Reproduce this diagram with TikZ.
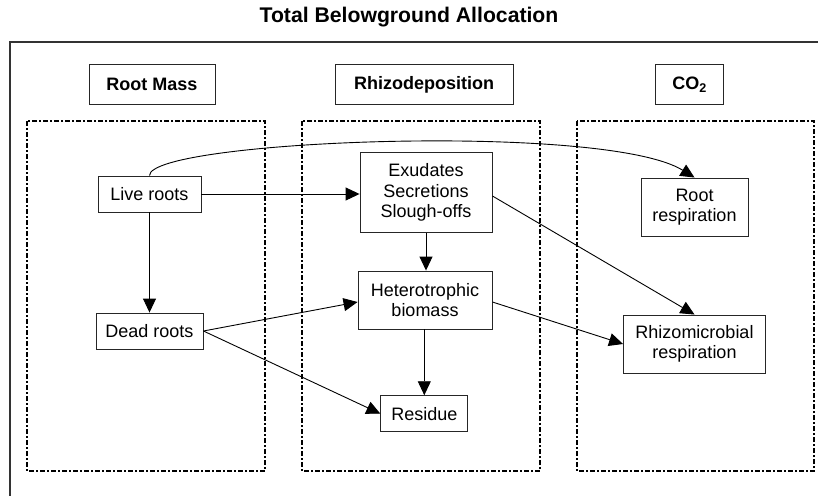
\documentclass[tikz,border=0pt]{standalone}
\usepackage{fontspec}
\setmainfont{Liberation Sans}
\usetikzlibrary{arrows.meta}
\begin{document}
\begin{tikzpicture}[x=1pt,y=-1pt,
  every node/.style={font=\fontsize{18}{20.5}\selectfont},
  box/.style={draw=black!85, line width=0.9pt, fill=white, inner sep=0pt, align=center},
  hdr/.style={box, font=\fontsize{18}{20.5}\selectfont\bfseries},
  group/.style={draw=black, line width=1.6pt, dash pattern=on 5pt off 2pt on 2pt off 2pt},
  arr/.style={line width=0.9pt, -{Triangle[length=14pt,width=13pt]}}]
\useasboundingbox (0,0) rectangle (818,495);
\clip (0,0) rectangle (818,495);
% outer frame
\draw[line width=1.3pt, draw=black!80] (10,590) -- (10,42) -- (900,42);
\node[font=\fontsize{21.2}{24}\selectfont\bfseries] (title) at (409,17) {Total Belowground Allocation};
% group frames
\draw[group] (27,121) rectangle (265,471);
\draw[group] (302,121) rectangle (540,471);
\draw[group] (577,121) rectangle (814,471);
% headers
\node[hdr, minimum width=126pt, minimum height=40pt] (rm) at (152,84.5) {Root Mass};
\node[hdr, minimum width=178pt, minimum height=40pt] (rd) at (424,84.5) {Rhizodeposition};
\node[hdr, minimum width=68pt, minimum height=40pt] (co) at (689.5,84.5) {CO\textsubscript{2}};
% nodes
\node[box, minimum width=103pt, minimum height=36pt] (live) at (149.5,194) {Live roots};
\node[box, minimum width=107pt, minimum height=36pt] (dead) at (149.5,331) {Dead roots};
\node[box, minimum width=132pt, minimum height=80pt] (exu) at (426,192.7) {Exudates\\Secretions\\Slough-offs};
\node[box, minimum width=134pt, minimum height=58pt] (het) at (425,300) {Heterotrophic\\biomass};
\node[box, minimum width=87pt, minimum height=36pt] (res) at (424.3,413.7) {Residue};
\node[box, minimum width=107pt, minimum height=58pt] (rr) at (694.5,207) {Root\\respiration};
\node[box, minimum width=142pt, minimum height=58pt] (rmr) at (694.5,344) {Rhizomicrobial\\respiration};
% connectors
\draw[arr] (live.north) .. controls (149.5,140) and (605,122) .. (rr.north);
\draw[arr] (live.east) -- (exu.west |- live.east);
\draw[arr] (live.south) -- (dead.north);
\draw[arr] (exu.south) -- (het.north -| exu.south);
\draw[arr] (exu.east |- 0,196) -- (rmr.north);
\draw[arr] (dead.east) -- (het.west |- 0,302);
\draw[arr] (dead.east) -- (res.west);
\draw[arr] (het.east |- 0,302) -- (rmr.west);
\draw[arr] (het.south -| res.north) -- (res.north);
\end{tikzpicture}
\end{document}
